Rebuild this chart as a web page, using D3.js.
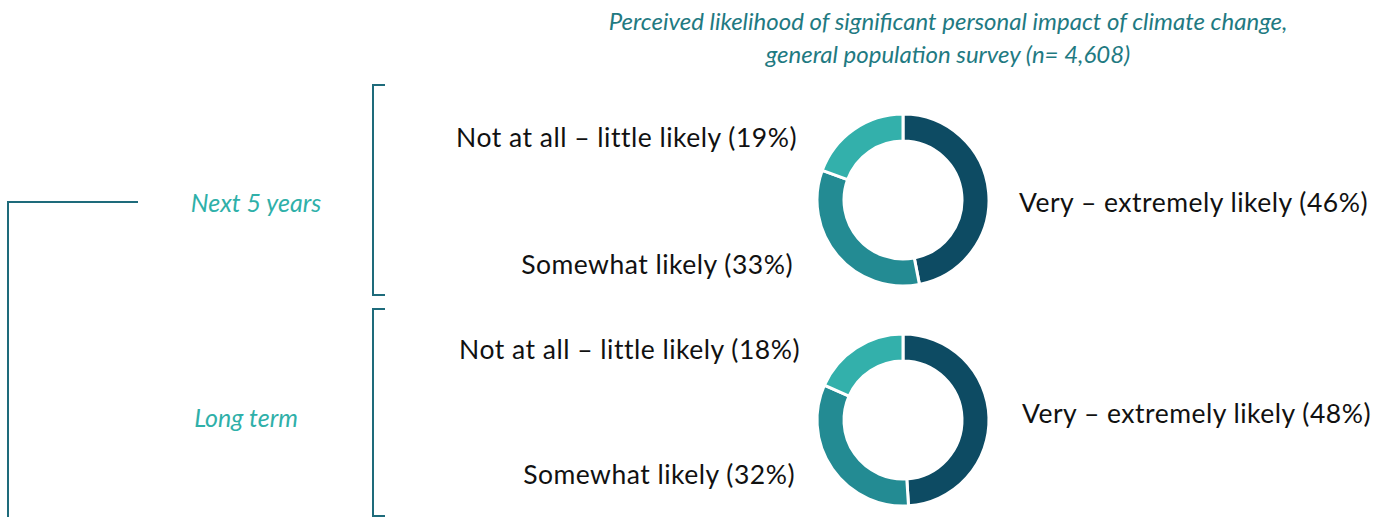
<!DOCTYPE html>
<html>
<head>
<meta charset="utf-8">
<script src="https://cdn.jsdelivr.net/npm/d3@7"></script>
<style>
  body { margin: 0; background: #fff; }
  svg text { font-family: Lato, "Noto Sans", sans-serif; }
</style>
</head>
<body>
<svg width="1379" height="517"></svg>
<script>
// data
var categories = ["Very – extremely likely", "Somewhat likely", "Not at all – little likely"];
var periods = ["Next 5 years", "Long term"];
var next5 = [46, 33, 19];
var longTerm = [48, 32, 18];
var colors = ["#0d4b63", "#238b93", "#33b0ab"];
var titleLines = ["Perceived likelihood of significant personal impact of climate change,",
                  "general population survey (n= 4,608)"];

var svg = d3.select("svg");
var dark = "#1e6b7b";

// title
svg.append("text")
  .attr("x", 948).attr("y", 30)
  .attr("text-anchor", "middle")
  .attr("fill", "#1f7a82")
  .style("font-style", "italic")
  .style("font-size", "24px")
  .selectAll("tspan").data(titleLines).join("tspan")
  .attr("x", 948)
  .attr("dy", function(d, i){ return i ? 33 : 0; })
  .text(function(d){ return d; });

// left connector
svg.append("path")
  .attr("d", "M8,520 V202 H138")
  .attr("fill", "none").attr("stroke", dark).attr("stroke-width", 2);

var rows = [
  {name: periods[0], values: next5, cy: 200, top: 85, bottom: 295, lx: 256, ly: 212,
   pos: [[116, 12], [-110, 74], [-106, -53]]},
  {name: periods[1], values: longTerm, cy: 420, top: 309, bottom: 516, lx: 246, ly: 427,
   pos: [[119, 3], [-108, 64], [-103, -61]]}
];

var pie = d3.pie().sort(null).value(function(d){ return d; });
var arc = d3.arc().innerRadius(59).outerRadius(86);
var cx = 903;

rows.forEach(function(r){
  // bracket
  svg.append("path")
    .attr("d", "M385," + r.top + " H373 V" + r.bottom + " H385")
    .attr("fill", "none").attr("stroke", dark).attr("stroke-width", 2);

  svg.append("text")
    .attr("x", r.lx).attr("y", r.ly)
    .attr("text-anchor", "middle")
    .attr("fill", "#2fb0a9")
    .style("font-style", "italic")
    .style("font-size", "25px")
    .text(r.name);

  var g = svg.append("g").attr("transform", "translate(" + cx + "," + r.cy + ")");
  g.selectAll("path").data(pie(r.values)).join("path")
    .attr("d", arc)
    .attr("fill", function(d, i){ return colors[i]; })
    .attr("stroke", "#fff").attr("stroke-width", 3);

  // labels
  var lab = categories.map(function(c, i){
    return {t: c + " (" + r.values[i] + "%)", x: cx + r.pos[i][0], y: r.cy + r.pos[i][1],
            a: i === 0 ? "start" : "end"};
  });
  svg.selectAll(null).data(lab).join("text")
    .attr("x", function(d){ return d.x; })
    .attr("y", function(d){ return d.y; })
    .attr("text-anchor", function(d){ return d.a; })
    .attr("fill", "#111")
    .style("font-size", "26.5px")
    .style("letter-spacing", "0.5px")
    .text(function(d){ return d.t; });
});
</script>
</body>
</html>
